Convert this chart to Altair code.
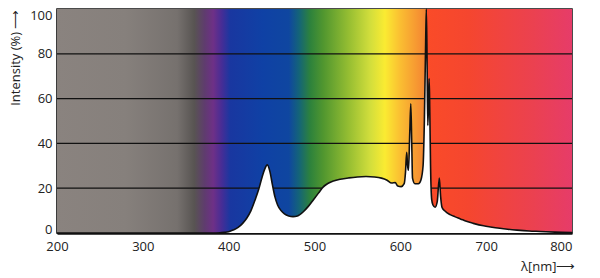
import altair as alt
import pandas as pd

# spectrum
wavelength = [200, 380, 390, 395, 400, 405, 411, 416, 421, 426, 431, 435, 439, 442, 445,
              448, 451, 454, 457, 461, 465, 470, 475, 480, 487, 493, 499, 505, 510, 516,
              522, 530, 540, 550, 560, 570, 578, 584, 590, 594, 597, 601, 604.5, 606,
              607.4, 608.5, 609.5, 611, 612.2, 613.3, 614.2, 617, 621, 624, 626.5, 628,
              629.5, 630.3, 631.2, 632, 633, 633.6, 634.3, 635.2, 636.5, 638, 640.5, 643,
              645.4, 647, 648.5, 652, 658, 664, 670, 677, 685, 697, 705, 716, 725, 736,
              750, 763, 780, 800]
intensity = [0, 0, 0.1, 0.3, 0.6, 1.3, 2.5, 4.2, 6.6, 10, 15, 19.5, 25, 28.5, 30.4,
             27.5, 21.5, 16, 12.5, 10, 8.5, 7.6, 7.3, 7.6, 9.5, 12, 15, 18, 20.5, 22.2,
             23.2, 24, 24.6, 25, 25.2, 25, 24.5, 23.7, 22.3, 22.5, 21, 20.7, 22, 27,
             36, 30, 28, 45, 57.7, 40, 24.5, 22, 22, 23.7, 30, 50,
             85, 100, 75, 48, 60, 69, 55, 30, 15, 12.5, 11.5, 14,
             24.5, 16, 11.5, 9.8, 8.2, 7.2, 6.3, 5.2, 4.3, 3.2, 2.7, 2.1, 1.7, 1.3,
             0.9, 0.7, 0.4, 0.2]

x_ticks = [200, 300, 400, 500, 600, 700, 800]
y_ticks = [0, 20, 40, 60, 80, 100]
grid_levels = [20, 40, 60, 80]

# background spectrum colours (wavelength, colour)
bg_nm = [200, 280, 340, 360, 372, 382, 392, 402, 440, 470, 482, 495, 510, 540,
         565, 582, 600, 625, 629.5, 630.5, 680, 755, 800]
bg_col = ["#8a837f", "#86807c", "#76716e", "#585452", "#5f3c6e", "#6e3087", "#462d96",
          "#1937a0", "#0f41a5", "#0f46a0", "#146478", "#2d823c", "#50962f", "#96be32",
          "#d2de3c", "#faeb32", "#fabe32", "#f58c32", "#f08232", "#fa4b28", "#f5462f",
          "#eb4150", "#e63c69"]

spec = pd.DataFrame({"nm": wavelength, "val": intensity})
bg = pd.DataFrame({"x": [200], "x2": [800], "y": [0], "y2": [100]})
grid = pd.DataFrame({"v": grid_levels})

stops = [alt.GradientStop(offset=(n - 200) / 600, color=c) for n, c in zip(bg_nm, bg_col)]
grad = alt.LinearGradient(gradient="linear", stops=stops, x1=0, x2=1, y1=0, y2=0)

xs = alt.Scale(domain=[200, 800], nice=False, zero=False)
ys = alt.Scale(domain=[0, 100], nice=False)

FONT = "Open Sans"

x_axis = alt.Axis(values=x_ticks, grid=False, ticks=False, labelFont=FONT, labelFontSize=13,
                  labelColor="#222", labelPadding=7, domainColor="#111", domainWidth=2.5,
                  labelAlign={"condition": {"test": "datum.value === 800", "value": "right"},
                              "value": "center"},
                  title="λ[nm]⟶", titleFont=FONT, titleFontSize=13, titleFontWeight="normal",
                  titleColor="#222", titleX=518, titleY=33, titleAlign="right",
                  titleBaseline="middle")
y_axis = alt.Axis(values=y_ticks, grid=False, ticks=False, labelFont=FONT, labelFontSize=13,
                  labelColor="#222", labelPadding=5, domainColor="#111", domainWidth=1.5,
                  labelBaseline={"condition": {"test": "datum.value === 100", "value": "top"},
                                 "value": "middle"},
                  labelOffset={"condition": {"test": "datum.value === 0", "value": -4},
                               "value": 0},
                  title="Intensity (%) ⟶", titleFont=FONT, titleFontSize=13,
                  titleFontWeight="normal", titleColor="#222", titleAnchor="end",
                  titlePadding=7)

background = alt.Chart(bg).mark_rect(color=grad).encode(
    x=alt.X("x:Q", scale=xs, axis=x_axis),
    x2="x2:Q",
    y=alt.Y("y:Q", scale=ys, axis=y_axis),
    y2="y2:Q",
)

rules = alt.Chart(grid).mark_rule(color="#111", strokeWidth=1.2).encode(
    y=alt.Y("v:Q", scale=ys),
)

area = alt.Chart(spec).mark_area(color="white", opacity=1, interpolate="monotone").encode(
    x=alt.X("nm:Q", scale=xs),
    y=alt.Y("val:Q", scale=ys),
)

line = alt.Chart(spec).mark_line(color="#111", strokeWidth=1.6, interpolate="monotone").encode(
    x=alt.X("nm:Q", scale=xs),
    y=alt.Y("val:Q", scale=ys),
)

chart = alt.layer(background, rules, area, line).properties(
    width=515, height=224,
    autosize=alt.AutoSizeParams(type="none"),
    padding={"left": 57, "top": 9, "right": 28, "bottom": 45},
    background="white",
).configure_view(stroke="#111", strokeWidth=1.5)

chart.save("out.html", embed_options={"renderer": "svg", "actions": False})
